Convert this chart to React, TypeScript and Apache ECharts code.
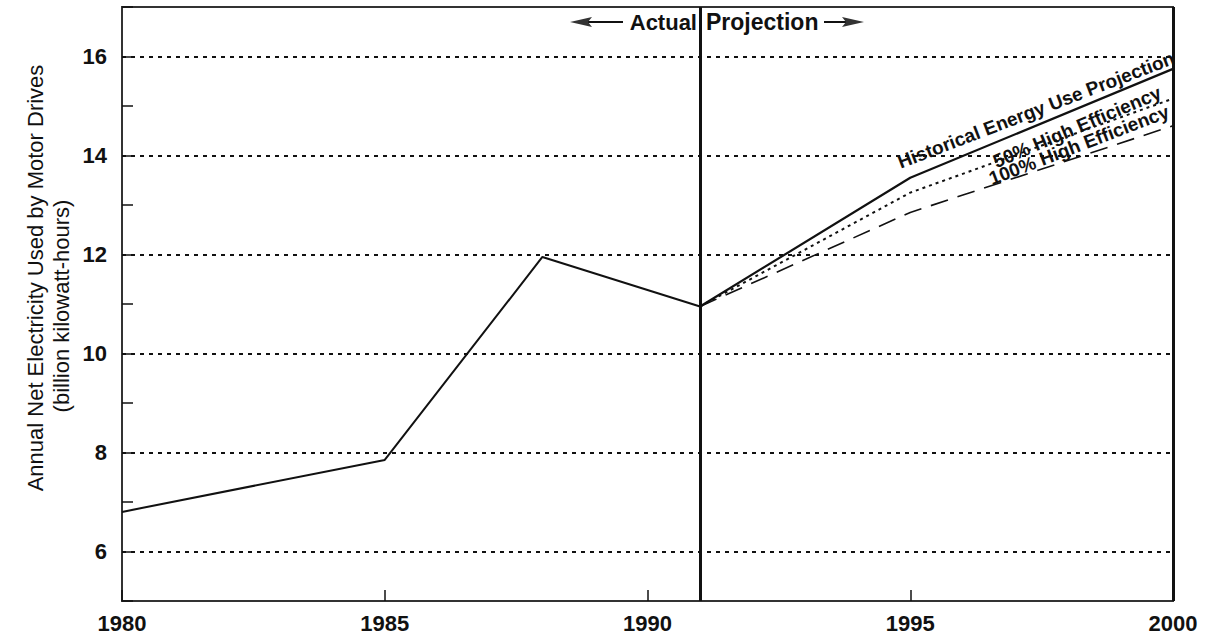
import React, { useEffect, useRef } from "react";
import * as echarts from "echarts";

const actualYears = [1980, 1985, 1988, 1991];
const actualValues = [6.8, 7.85, 11.95, 10.95];
const projYears = [1991, 1995, 2000];
const historicalValues = [10.95, 13.55, 15.75];
const eff50Values = [10.95, 13.25, 15.15];
const eff100Values = [10.95, 12.85, 14.6];
const gridValues = [6, 8, 10, 12, 14, 16];
const splitYear = 1991;

const FONT = "'Liberation Sans', Arial, Helvetica, sans-serif";

const pairs = (xs: number[], ys: number[]) => xs.map((x, i) => [x, ys[i]]);

export default function App() {
  const ref = useRef<HTMLDivElement>(null);
  useEffect(() => {
    if (!ref.current) return;
    const chart = echarts.init(ref.current, undefined, { renderer: "svg" });
    const black = "#111";
    chart.setOption({
      animation: false,
      backgroundColor: "#fff",
      grid: { left: 122, right: 37, top: 7, bottom: 34, show: true, borderColor: "#333", borderWidth: 2 },
      xAxis: {
        type: "value",
        min: 1980,
        max: 2000,
        interval: 5,
        axisLine: { show: false },
        axisTick: { show: true, inside: true, length: 11, lineStyle: { color: black, width: 1.5 } },
        axisLabel: { color: black, fontSize: 22, fontFamily: FONT, fontWeight: "bold", margin: 11, formatter: (v: number) => String(v) },
        splitLine: { show: false },
      },
      yAxis: {
        type: "value",
        min: 5,
        max: 17,
        interval: 1,
        axisLine: { show: false },
        axisTick: { show: true, inside: true, length: 11, lineStyle: { color: black, width: 1.5 } },
        axisLabel: {
          color: black,
          fontSize: 22,
          fontFamily: FONT,
          fontWeight: "bold",
          margin: 15,
          formatter: (v: number) => (v % 2 === 0 && v > 5 && v < 17 ? String(v) : ""),
        },
        splitLine: { show: false },
      },
      series: [
        {
          type: "line",
          data: pairs(actualYears, actualValues),
          symbol: "none",
          lineStyle: { color: black, width: 2 },
          markLine: {
            silent: true,
            symbol: "none",
            label: { show: false },
            lineStyle: { color: black, type: [4, 5], width: 1.8 },
            data: gridValues.map((v) => ({ yAxis: v })),
          },
          z: 5,
        },
        {
          type: "line",
          data: pairs(projYears, historicalValues),
          symbol: "none",
          lineStyle: { color: black, width: 2.2 },
          markLine: {
            silent: true,
            symbol: "none",
            label: { show: false },
            lineStyle: { color: black, type: "solid", width: 3 },
            data: [{ xAxis: splitYear }, { xAxis: 2000 }],
          },
          z: 5,
        },
        {
          type: "line",
          data: pairs(projYears, eff50Values),
          symbol: "none",
          lineStyle: { color: black, width: 2, type: [3, 4] },
          z: 5,
        },
        {
          type: "line",
          data: pairs(projYears, eff100Values),
          symbol: "none",
          lineStyle: { color: black, width: 1.6, type: [18, 10] },
          z: 5,
        },
      ],
      graphic: [
        {
          type: "text",
          x: 35,
          y: 278,
          rotation: Math.PI / 2,
          style: { text: "Annual Net Electricity Used by Motor Drives", font: `22px ${FONT}`, fill: black, align: "center", verticalAlign: "middle" },
        },
        {
          type: "text",
          x: 61,
          y: 306,
          rotation: Math.PI / 2,
          style: { text: "(billion kilowatt-hours)", font: `22px ${FONT}`, fill: black, align: "center", verticalAlign: "middle" },
        },
        {
          type: "text",
          x: 697,
          y: 22,
          style: { text: "Actual", font: `bold 22px ${FONT}`, fill: black, align: "right", verticalAlign: "middle" },
        },
        { type: "line", shape: { x1: 588, y1: 22, x2: 623, y2: 22 }, style: { stroke: black, lineWidth: 2 } },
        { type: "polygon", shape: { points: [[570, 22], [592, 17], [588, 22], [592, 27]] }, style: { fill: "#333" } },
        {
          type: "text",
          x: 706,
          y: 22,
          style: { text: "Projection", font: `bold 23px ${FONT}`, fill: black, align: "left", verticalAlign: "middle" },
        },
        { type: "line", shape: { x1: 824, y1: 22, x2: 847, y2: 22 }, style: { stroke: black, lineWidth: 2 } },
        { type: "polygon", shape: { points: [[864, 22], [842, 17], [846, 22], [842, 27]] }, style: { fill: "#333" } },
        {
          type: "text",
          x: 1036,
          y: 110,
          rotation: (21 * Math.PI) / 180,
          style: { text: "Historical Energy Use Projection", font: `bold 19px ${FONT}`, fill: black, align: "center", verticalAlign: "middle" },
        },
        {
          type: "text",
          x: 1077,
          y: 127,
          rotation: (23 * Math.PI) / 180,
          style: { text: "50% High Efficiency", font: `bold 19px ${FONT}`, fill: black, align: "center", verticalAlign: "middle" },
        },
        {
          type: "text",
          x: 1079,
          y: 145,
          rotation: (21 * Math.PI) / 180,
          style: { text: "100% High Efficiency", font: `bold 19px ${FONT}`, fill: black, align: "center", verticalAlign: "middle" },
        },
      ],
    });
    return () => chart.dispose();
  }, []);
  return <div ref={ref} style={{ position: "absolute", left: 0, top: 0, width: 1210, height: 635 }} />;
}
